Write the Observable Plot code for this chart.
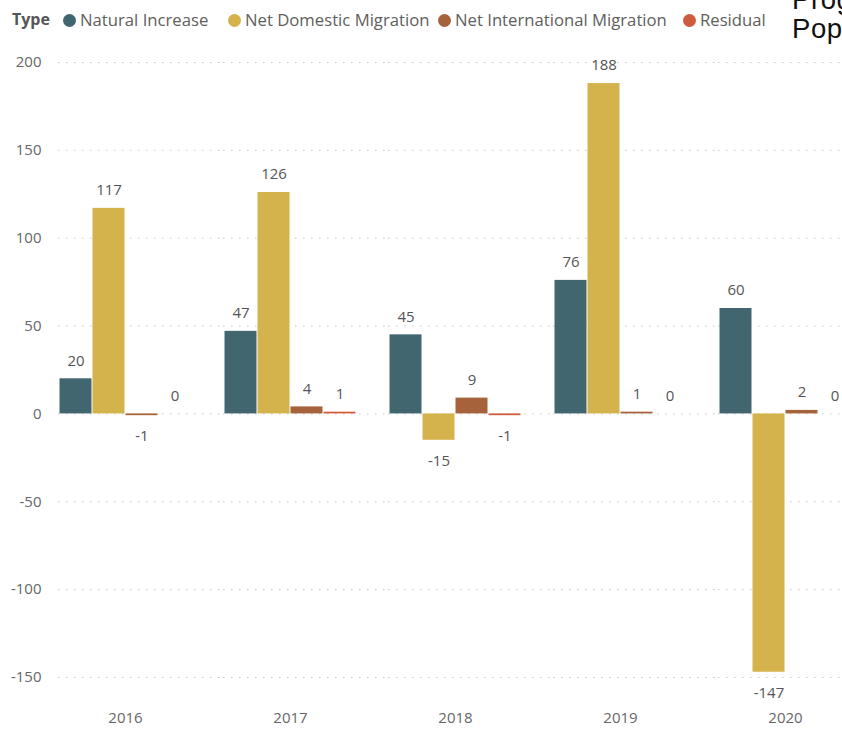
<!DOCTYPE html>
<html>
<head>
<meta charset="utf-8">
<script src="https://cdn.jsdelivr.net/npm/d3@7"></script>
<script src="https://cdn.jsdelivr.net/npm/@observablehq/plot@0.6"></script>
<style>
  html, body { margin: 0; padding: 0; background: #fff; overflow: hidden; width: 842px; height: 729px; }
  #wrap { position: relative; width: 842px; height: 729px; overflow: hidden; }
  #legend { position: absolute; left: 0; top: 0; height: 40px; width: 842px; font-family: "Open Sans", sans-serif; font-size: 16.7px; color: #605E5C; }
  #legend .title { position: absolute; left: 12px; top: 8px; font-weight: 700; color: #555; font-size: 16px; }
  #legend .item { position: absolute; top: 8px; white-space: nowrap; }
  #legend .dot { display: inline-block; width: 13px; height: 13px; border-radius: 50%; margin-right: 4.5px; vertical-align: -1px; }
  #other { position: absolute; left: 792px; top: -15px; font-family: "Liberation Sans", Arial, sans-serif; font-size: 27.5px; letter-spacing: 0.6px; line-height: 29.4px; color: #111; white-space: nowrap; }
  #chart { position: absolute; left: 0; top: 0; }
</style>
</head>
<body>
<div id="wrap">
  <div id="chart"></div>
  <div id="legend"></div>
  <div id="other">Progression of<br>Population</div>
</div>
<script>
const years = ["2016", "2017", "2018", "2019", "2020"];
const types = ["Natural Increase", "Net Domestic Migration", "Net International Migration", "Residual"];
const naturalIncrease = [20, 47, 45, 76, 60];
const netDomesticMigration = [117, 126, -15, 188, -147];
const netInternationalMigration = [-1, 4, 9, 1, 2];
const residual = [0, 1, -1, 0, 0];
const colors = ["#41666F", "#D4B24C", "#A6623A", "#CF5B3F"];
const yTicks = [-150, -100, -50, 0, 50, 100, 150, 200];

const series = [naturalIncrease, netDomesticMigration, netInternationalMigration, residual];
const data = [];
years.forEach((year, i) => {
  types.forEach((type, j) => data.push({year, type, value: series[j][i]}));
});

// legend (HTML)
const legend = document.getElementById("legend");
const title = document.createElement("span");
title.className = "title";
title.textContent = "Type";
legend.appendChild(title);
const legendLeft = [62.5, 227.5, 437.5, 682.5];
types.forEach((t, i) => {
  const item = document.createElement("span");
  item.className = "item";
  item.style.left = legendLeft[i] + "px";
  const dot = document.createElement("span");
  dot.className = "dot";
  dot.style.background = colors[i];
  item.appendChild(dot);
  item.appendChild(document.createTextNode(t));
  legend.appendChild(item);
});

const chart = Plot.plot({
  width: 842,
  height: 729,
  marginLeft: 57,
  marginRight: -11,
  marginTop: 62,
  marginBottom: 52,
  style: {fontFamily: "'Open Sans', sans-serif", fontSize: "15px", color: "#666", overflow: "hidden", background: "transparent"},
  fx: {domain: years, paddingInner: 0.19, paddingOuter: 0, label: null},
  x: {domain: types, padding: 0, axis: null},
  y: {domain: [-150, 200], axis: null},
  color: {domain: types, range: colors},
  marks: [
    Plot.ruleY(yTicks, {stroke: "#c4c4c4", strokeDasharray: "1.5,6.5", insetRight: -32}),
    Plot.axisY({ticks: yTicks, tickSize: 0, tickPadding: 17, tickFormat: d => String(d), label: null, fill: "#666", fontSize: 15}),
    Plot.axisFx({anchor: "bottom", tickSize: 0, tickPadding: 35, label: null, fill: "#666", fontSize: 15}),
    Plot.barY(data, {fx: "year", x: "type", y: "value", fill: "type", insetLeft: 0.5, insetRight: 0.5}),
    Plot.text(data.filter(d => d.value >= 0), {fx: "year", x: "type", y: "value", text: d => String(d.value), dy: -18, fill: "#555", fontSize: 15}),
    Plot.text(data.filter(d => d.value < 0), {fx: "year", x: "type", y: "value", text: d => String(d.value), dy: 21, fill: "#555", fontSize: 15})
  ]
});
document.getElementById("chart").appendChild(chart);
</script>
</body>
</html>
